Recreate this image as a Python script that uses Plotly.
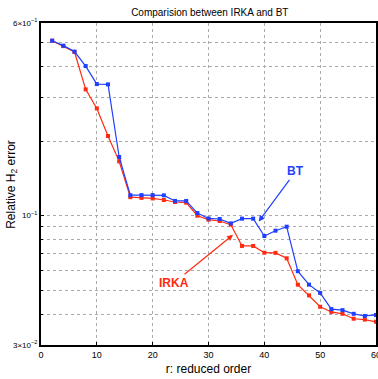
import math
import plotly.graph_objects as go

orders = [2, 4, 6, 8, 10, 12, 14, 16, 18, 20, 22, 24, 26, 28, 30,
          32, 34, 36, 38, 40, 42, 44, 46, 48, 50, 52, 54, 56, 58, 60]
bt_err = [0.509, 0.486, 0.460, 0.402, 0.340, 0.339, 0.1725, 0.1209, 0.121, 0.121,
          0.1207, 0.1146, 0.1146, 0.1024, 0.0974, 0.0969, 0.0930, 0.0972, 0.0972, 0.0827,
          0.0869, 0.0902, 0.0596, 0.0526, 0.0487, 0.0419, 0.0415, 0.0401, 0.0393, 0.0397]
irka_err = [0.509, 0.484, 0.458, 0.3236, 0.2711, 0.2097, 0.1656, 0.1187, 0.1179, 0.1173,
            0.1156, 0.1135, 0.1128, 0.0999, 0.0963, 0.0951, 0.0919, 0.0754, 0.0754, 0.0708,
            0.0707, 0.0672, 0.0526, 0.0476, 0.0428, 0.0408, 0.0401, 0.0383, 0.0380, 0.0372]

ytick_vals = [0.03, 0.1, 0.6]
ytick_text = ["3×10<sup>−2</sup>", "10<sup>−1</sup>", "6×10<sup>−1</sup>"]
yminor_vals = [0.04, 0.05, 0.06, 0.07, 0.08, 0.09, 0.2, 0.3, 0.4, 0.5]
xtick_vals = [0, 10, 20, 30, 40, 50, 60]

RED = "#ff2a10"
BLUE = "#1f3fff"
FONT = "Liberation Sans, Arial, sans-serif"
GRID = "#aaaaaa"

fig = go.Figure()
fig.add_trace(go.Scatter(x=orders, y=irka_err, mode="lines+markers", name="IRKA",
                         line=dict(color=RED, width=1.2),
                         marker=dict(color=RED, size=4, symbol="square")))
fig.add_trace(go.Scatter(x=orders, y=bt_err, mode="lines+markers", name="BT",
                         line=dict(color=BLUE, width=1.2),
                         marker=dict(color=BLUE, size=4, symbol="square")))

# annotation positions on log axis are given in log10 units
fig.add_annotation(x=39.0, y=math.log10(0.0947), text="<b>BT</b>", showarrow=True,
                   ax=37, ay=-50, arrowhead=2, arrowsize=1, arrowwidth=1.2,
                   arrowcolor=BLUE, font=dict(color=BLUE, size=12, family=FONT))
fig.add_annotation(x=34.4, y=math.log10(0.0837), text="<b>IRKA</b>", showarrow=True,
                   ax=-59, ay=48, arrowhead=2, arrowsize=1, arrowwidth=1.2,
                   arrowcolor=RED, font=dict(color=RED, size=12, family=FONT))
# y-axis title
fig.add_annotation(xref="paper", yref="paper", x=-0.087, y=0.5, xanchor="center",
                   yanchor="middle", textangle=-90, showarrow=False,
                   text="Relative H<sub>2</sub> error", font=dict(size=12, family=FONT))

fig.update_layout(
    width=378, height=379,
    margin=dict(l=41, r=2, t=23, b=34),
    paper_bgcolor="white", plot_bgcolor="white",
    showlegend=False,
    font=dict(family=FONT, color="black"),
    title=dict(text="Comparision between IRKA and BT", x=0.555, xanchor="center",
               y=0.968, yanchor="middle", font=dict(size=10, family=FONT)),
    xaxis=dict(range=[0, 60], tickvals=xtick_vals, showgrid=True, automargin=False,
               gridcolor=GRID, griddash="dot", gridwidth=1,
               showline=True, linecolor="black", linewidth=2, mirror=True,
               ticks="inside", ticklen=3, tickcolor="black",
               tickfont=dict(size=9), zeroline=False, ticklabeloverflow="allow",
               title=dict(text="r: reduced order", font=dict(size=12), standoff=6)),
    yaxis=dict(type="log", range=[-1.5229, -0.2218], tickvals=ytick_vals,
               ticktext=ytick_text, showgrid=True, automargin=False,
               gridcolor=GRID, griddash="dot", gridwidth=1,
               minor=dict(tickvals=yminor_vals, showgrid=True, gridcolor=GRID,
                          griddash="dot", gridwidth=1, ticks="inside", ticklen=2,
                          tickcolor="black"),
               showline=True, linecolor="black", linewidth=2, mirror=True,
               ticks="inside", ticklen=3, tickcolor="black",
               tickfont=dict(size=8), zeroline=False),
)

fig.write_html("out.html")
